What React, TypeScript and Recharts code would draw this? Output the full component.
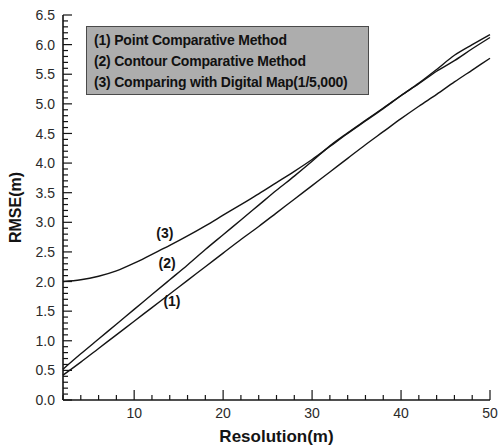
import React from 'react';
import { LineChart, Line, XAxis, YAxis, ReferenceDot } from 'recharts';

// resolution (m)
const resolution = [2, 4, 6, 8, 10, 12, 14, 16, 18, 20, 22, 24, 26, 28, 30, 32, 34, 36, 38, 40, 42, 44, 46, 48, 50];

// (1) Point Comparative Method
const pointMethod = [0.42, 0.64, 0.87, 1.1, 1.33, 1.56, 1.79, 2.02, 2.25, 2.48, 2.71, 2.93, 3.16, 3.39, 3.62, 3.85, 4.08, 4.31, 4.53, 4.75, 4.96, 5.16, 5.37, 5.57, 5.77];
// (2) Contour Comparative Method
const contourMethod = [0.52, 0.78, 1.03, 1.28, 1.53, 1.78, 2.03, 2.28, 2.54, 2.79, 3.04, 3.29, 3.54, 3.78, 4.03, 4.29, 4.51, 4.72, 4.93, 5.14, 5.34, 5.55, 5.73, 5.93, 6.12];
// (3) Comparing with Digital Map(1/5,000)
const digitalMap = [2.0, 2.03, 2.09, 2.18, 2.31, 2.46, 2.61, 2.77, 2.94, 3.12, 3.3, 3.48, 3.67, 3.86, 4.06, 4.28, 4.5, 4.71, 4.92, 5.14, 5.35, 5.58, 5.82, 6.0, 6.17];

const legendItems = [
  '(1) Point Comparative Method',
  '(2) Contour Comparative Method',
  '(3) Comparing with Digital Map(1/5,000)',
];

// curve tags written on the plot
const curveTags = [
  { label: '(3)', x: 13.45, y: 2.82 },
  { label: '(2)', x: 13.7, y: 2.31 },
  { label: '(1)', x: 14.25, y: 1.67 },
];

const xMajor = [10, 20, 30, 40, 50];
const xTicks = [2, 4, 6, 8, 10, 12, 14, 16, 18, 20, 22, 24, 26, 28, 30, 32, 34, 36, 38, 40, 42, 44, 46, 48, 50];
const yTicks: number[] = [];
for (let i = 0; i <= 65; i++) yTicks.push(i / 10);

const data = resolution.map((x, i) => ({
  x,
  s1: pointMethod[i],
  s2: contourMethod[i],
  s3: digitalMap[i],
}));

const FONT = '"Liberation Sans", Arial, sans-serif';
const INK = '#141414';

const YTick = ({ x, y, payload }: any) => {
  const v = payload.value;
  const major = Math.abs(v * 2 - Math.round(v * 2)) < 1e-6;
  const ax = x + 8;
  return (
    <g>
      <line x1={ax} x2={ax + (major ? 9 : 5)} y1={y} y2={y} stroke={INK} strokeWidth={1.2} />
      {major && (
        <text x={x} y={y} dy="0.36em" textAnchor="end" fontSize={14} fontFamily={FONT} fill="#2a2a2a">
          {v.toFixed(1)}
        </text>
      )}
    </g>
  );
};

const XTick = ({ x, y, payload }: any) => {
  const v = payload.value;
  const major = xMajor.includes(v);
  const ay = y - 13;
  return (
    <g>
      <line x1={x} x2={x} y1={ay} y2={ay - (major ? 10 : 5)} stroke={INK} strokeWidth={1.2} />
      {major && (
        <text x={x} y={y} dy="0.36em" textAnchor="middle" fontSize={14} fontFamily={FONT} fill="#2a2a2a">
          {v}
        </text>
      )}
    </g>
  );
};

export default function App() {
  return (
    <div style={{ position: 'absolute', left: 0, top: 0, width: 498, height: 447 }}>
      <LineChart width={498} height={447} data={data} margin={{ top: 15, right: 8, bottom: 0, left: 0 }}>
        <XAxis
          type="number"
          dataKey="x"
          domain={[2, 50]}
          ticks={xTicks}
          interval={0}
          height={47}
          tickSize={0}
          tickMargin={13}
          tick={<XTick />}
          stroke={INK}
          strokeWidth={1.6}
          label={(props: any) => {
            const vb = props.viewBox;
            return (
              <text x={vb.x + vb.width / 2} y={vb.y + 36} dy="0.36em" textAnchor="middle" fontSize={17} fontWeight="bold" fontFamily={FONT} fill={INK}>
                Resolution(m)
              </text>
            );
          }}
        />
        <YAxis
          type="number"
          domain={[0, 6.5]}
          ticks={yTicks}
          interval={0}
          width={63}
          tickSize={0}
          tickMargin={8}
          tick={<YTick />}
          stroke={INK}
          strokeWidth={1.6}
          label={(props: any) => {
            const vb = props.viewBox;
            const cx = vb.x + 15;
            const cy = vb.y + vb.height / 2;
            return (
              <text x={cx} y={cy} dy="0.36em" textAnchor="middle" transform={`rotate(-90 ${cx} ${cy})`} fontSize={16} fontWeight="bold" fontFamily={FONT} fill={INK}>
                RMSE(m)
              </text>
            );
          }}
        />
        <Line type="monotone" dataKey="s1" stroke={INK} strokeWidth={1.4} dot={false} isAnimationActive={false} />
        <Line type="monotone" dataKey="s2" stroke={INK} strokeWidth={1.4} dot={false} isAnimationActive={false} />
        <Line type="monotone" dataKey="s3" stroke={INK} strokeWidth={1.4} dot={false} isAnimationActive={false} />
        {curveTags.map((t) => (
          <ReferenceDot
            key={t.label}
            x={t.x}
            y={t.y}
            r={1}
            fill="none"
            stroke="none"
            label={{ value: t.label, position: 'center', fontSize: 14, fontWeight: 'bold', fontFamily: FONT, fill: INK }}
          />
        ))}
      </LineChart>
      <div
        style={{
          position: 'absolute',
          left: 86,
          top: 26,
          width: 274,
          height: 64,
          background: '#adadad',
          border: '1px solid #4a4a4a',
          boxSizing: 'content-box',
          fontFamily: FONT,
          fontWeight: 'bold',
          fontSize: 14,
          letterSpacing: -0.2,
          color: '#111',
          paddingTop: 3,
          paddingLeft: 7,
        }}
      >
        {legendItems.map((s) => (
          <div key={s} style={{ lineHeight: '21px', height: 21, whiteSpace: 'nowrap' }}>
            {s}
          </div>
        ))}
      </div>
    </div>
  );
}
